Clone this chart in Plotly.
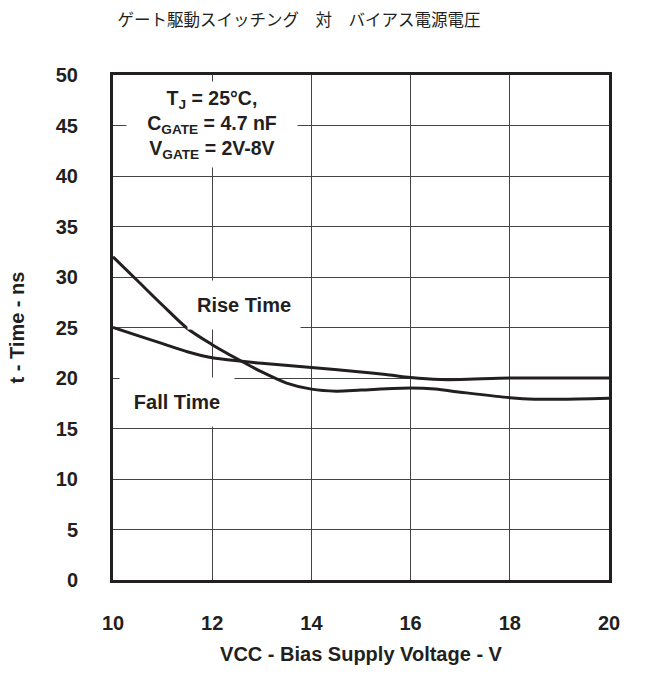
import plotly.graph_objects as go

# Bias supply voltage (V) and switching times (ns)
rise_vcc = [10, 10.5, 11, 11.5, 12, 12.5, 13, 13.5, 14, 14.5, 15, 16, 16.5, 17, 18, 18.5, 19, 20]
rise_time = [32.0, 29.6, 27.2, 24.9, 23.3, 21.9, 20.6, 19.5, 18.9, 18.7, 18.8, 19.0, 18.9, 18.6, 18.05, 17.9, 17.9, 18.0]

fall_vcc = [10, 10.5, 11, 11.5, 12, 12.5, 13, 14, 15, 15.5, 16, 16.6, 17, 18, 19, 20]
fall_time = [25.0, 24.2, 23.4, 22.6, 22.0, 21.7, 21.45, 21.05, 20.6, 20.35, 20.05, 19.85, 19.85, 20.0, 20.0, 20.0]

x_ticks = [10, 12, 14, 16, 18, 20]
y_ticks = [0, 5, 10, 15, 20, 25, 30, 35, 40, 45, 50]

INK = "#231f20"
GRID = "#444444"
FONT = "Liberation Sans, Arial, sans-serif"

fig = go.Figure()
fig.add_trace(go.Scatter(x=rise_vcc, y=rise_time, mode="lines", name="Rise Time",
                         line=dict(color=INK, width=3, shape="spline", smoothing=0.8)))
fig.add_trace(go.Scatter(x=fall_vcc, y=fall_time, mode="lines", name="Fall Time",
                         line=dict(color=INK, width=3, shape="spline", smoothing=0.8)))

axis_common = dict(
    showgrid=True, gridcolor=GRID, gridwidth=1,
    showline=True, linecolor=INK, linewidth=3, mirror=True,
    ticks="", zeroline=False,
    tickfont=dict(family=FONT, size=20, color=INK, weight="bold"),
)

fig.update_xaxes(range=[10, 20], tickvals=x_ticks, ticklabelstandoff=23,
                 title=dict(text="<b>VCC - Bias Supply Voltage - V</b>", standoff=14,
                            font=dict(family=FONT, size=20, color=INK)),
                 **axis_common)
fig.update_yaxes(range=[0, 50], tickvals=y_ticks, ticklabelstandoff=28,
                 title=dict(text="<b>t - Time - ns</b>", standoff=26,
                            font=dict(family=FONT, size=20, color=INK)),
                 **axis_common)

label_font = dict(family=FONT, size=20, color=INK)
fig.add_annotation(x=12.0, y=45.1, xref="x", yref="y", showarrow=False,
                   text="<b>T<sub>J</sub> = 25°C,<br>C<sub>GATE</sub> = 4.7 nF<br>V<sub>GATE</sub> = 2V-8V</b>",
                   bgcolor="white", borderpad=0, width=170, height=85,
                   font=dict(family=FONT, size=19.5, color=INK), align="center")
fig.add_annotation(x=12.64, y=27.25, xref="x", yref="y", showarrow=False,
                   text="<b>Rise Time</b>", bgcolor="white", borderpad=0,
                   width=112, height=48, font=label_font)
fig.add_annotation(x=11.29, y=17.6, xref="x", yref="y", showarrow=False,
                   text="<b>Fall Time</b>", bgcolor="white", borderpad=0,
                   width=114, height=48, font=label_font)

fig.update_layout(
    width=650, height=674,
    margin=dict(l=113, r=41, t=75, b=85),
    paper_bgcolor="white", plot_bgcolor="white",
    showlegend=False,
    title=dict(text="ゲート駆動スイッチング　対　バイアス電源電圧",
               x=0.46, xref="container", xanchor="center",
               y=1 - 20 / 674, yref="container", yanchor="middle",
               font=dict(family="Noto Sans CJK JP", size=16.5, color=INK)),
)

fig.write_html("out.html")
